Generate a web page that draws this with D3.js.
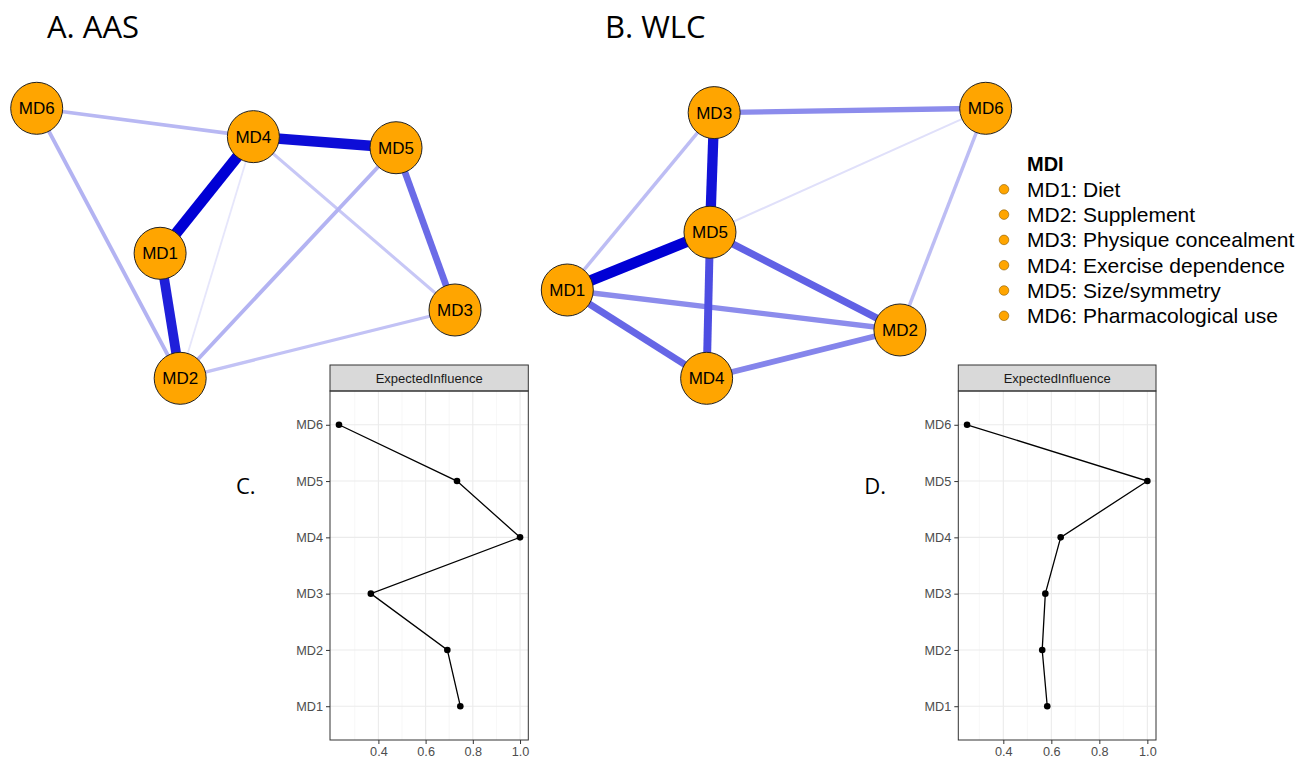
<!DOCTYPE html>
<html>
<head>
<meta charset="utf-8">
<script src="https://cdn.jsdelivr.net/npm/d3@7"></script>
<style>
  body { margin: 0; background: #fff; }
  svg { display: block; }
</style>
</head>
<body>
<svg width="1308" height="761"></svg>
<script>
// data
var nodes = ["MD1", "MD2", "MD3", "MD4", "MD5", "MD6"];
var legendLabels = ["MD1: Diet", "MD2: Supplement", "MD3: Physique concealment",
                    "MD4: Exercise dependence", "MD5: Size/symmetry", "MD6: Pharmacological use"];

// layouts (0-1 units), order MD1..MD6
var layoutA_x = [0.295, 0.343, 1.000, 0.518, 0.859, 0.000];
var layoutA_y = [0.537, 1.000, 0.747, 0.105, 0.146, 0.000];
var layoutB_x = [0.000, 0.795, 0.351, 0.333, 0.341, 1.000];
var layoutB_y = [0.673, 0.821, 0.016, 1.000, 0.459, 0.000];

// edges: [from, to, weight]
var edgesA = [
  ["MD6", "MD4", 0.28], ["MD6", "MD2", 0.30], ["MD4", "MD2", 0.10],
  ["MD4", "MD3", 0.22], ["MD5", "MD2", 0.30], ["MD3", "MD2", 0.24],
  ["MD5", "MD3", 0.58], ["MD1", "MD2", 0.88], ["MD4", "MD5", 0.95],
  ["MD4", "MD1", 1.00]
];
var edgesB = [
  ["MD5", "MD6", 0.12], ["MD3", "MD1", 0.26], ["MD6", "MD2", 0.26],
  ["MD3", "MD6", 0.45], ["MD1", "MD2", 0.45], ["MD4", "MD2", 0.48],
  ["MD1", "MD4", 0.60], ["MD5", "MD2", 0.62], ["MD5", "MD4", 0.70],
  ["MD3", "MD5", 0.93], ["MD5", "MD1", 1.00]
];

// expected influence (centrality)
var influenceC = [0.747, 0.692, 0.368, 1.000, 0.733, 0.233];
var influenceD = [0.583, 0.562, 0.575, 0.639, 1.000, 0.249];
var xTicks = [0.4, 0.6, 0.8, 1.0];
var xMinor = [0.3, 0.5, 0.7, 0.9];

var svg = d3.select("svg");
var font = "'Liberation Sans', Arial, sans-serif";

var edgeColour = d3.scaleLinear().domain([0, 1]).range(["#ffffff", "#0000d5"]);
var edgeWidth = d3.scaleLinear().domain([0, 1]).range([0.8, 11]);

function network(lx, ly, edges, xr, yr) {
  var x = d3.scaleLinear().domain([0, 1]).range(xr);
  var y = d3.scaleLinear().domain([0, 1]).range(yr);
  var pos = {};
  nodes.forEach(function(n, i) { pos[n] = [x(lx[i]), y(ly[i])]; });

  var g = svg.append("g");
  g.selectAll("line")
    .data(edges)
    .enter()
    .append("line")
      .attr("x1", function(d) { return pos[d[0]][0]; })
      .attr("y1", function(d) { return pos[d[0]][1]; })
      .attr("x2", function(d) { return pos[d[1]][0]; })
      .attr("y2", function(d) { return pos[d[1]][1]; })
      .attr("stroke", function(d) { return edgeColour(d[2]); })
      .attr("stroke-width", function(d) { return edgeWidth(d[2]); });

  var ng = g.selectAll("g.node")
    .data(nodes)
    .enter()
    .append("g")
      .attr("transform", function(d) { return "translate(" + pos[d][0] + "," + pos[d][1] + ")"; });
  ng.append("circle")
    .attr("r", 26)
    .attr("fill", "#ffa500")
    .attr("stroke", "#222")
    .attr("stroke-width", 1);
  ng.append("text")
    .attr("text-anchor", "middle")
    .attr("dy", "0.36em")
    .style("font-family", font)
    .style("font-size", "17px")
    .text(function(d) { return d; });
}

network(layoutA_x, layoutA_y, edgesA, [36.7, 455], [108.3, 378.3]);
network(layoutB_x, layoutB_y, edgesB, [567.3, 985.7], [108.3, 378.3]);

// titles
svg.append("text").attr("x", 47).attr("y", 38)
  .style("font-family", "'Open Sans', sans-serif").style("font-size", "31px").text("A. AAS");
svg.append("text").attr("x", 605).attr("y", 38)
  .style("font-family", "'Open Sans', sans-serif").style("font-size", "31px").text("B. WLC");

// legend
var lg = svg.append("g");
lg.append("text").attr("x", 1027).attr("y", 171)
  .style("font-family", font).style("font-size", "20px").style("font-weight", "bold").text("MDI");
var li = lg.selectAll("g.item")
  .data(legendLabels)
  .enter()
  .append("g")
    .attr("transform", function(d, i) { return "translate(0," + (189.3 + i * 25.3) + ")"; });
li.append("circle").attr("cx", 1004).attr("r", 4.8)
  .attr("fill", "#ffa500").attr("stroke", "#8a5a00").attr("stroke-width", 0.6);
li.append("text").attr("x", 1027).attr("dy", "0.36em")
  .style("font-family", font).style("font-size", "21px").text(function(d) { return d; });

// centrality plots
function centrality(values, left, right, domain, letter) {
  var top = 365, stripH = 26, bottom = 740;
  var x = d3.scaleLinear().domain(domain).range([left, right]);
  var y = d3.scalePoint().domain(nodes.slice().reverse()).range([top + stripH, bottom]).padding(0.6);

  var g = svg.append("g");
  // grid
  g.selectAll("line.minor").data(xMinor).enter().append("line")
    .attr("x1", function(d) { return x(d); }).attr("x2", function(d) { return x(d); })
    .attr("y1", top + stripH).attr("y2", bottom)
    .attr("stroke", "#f2f2f2").attr("stroke-width", 0.6);
  g.selectAll("line.major").data(xTicks).enter().append("line")
    .attr("x1", function(d) { return x(d); }).attr("x2", function(d) { return x(d); })
    .attr("y1", top + stripH).attr("y2", bottom)
    .attr("stroke", "#ebebeb").attr("stroke-width", 1.1);
  g.selectAll("line.hmajor").data(nodes).enter().append("line")
    .attr("x1", left).attr("x2", right)
    .attr("y1", function(d) { return y(d); }).attr("y2", function(d) { return y(d); })
    .attr("stroke", "#ebebeb").attr("stroke-width", 1.1);

  // strip
  g.append("rect").attr("x", left).attr("y", top).attr("width", right - left).attr("height", stripH)
    .attr("fill", "#d9d9d9").attr("stroke", "#333").attr("stroke-width", 1);
  g.append("text").attr("x", (left + right) / 2).attr("y", top + stripH / 2).attr("dy", "0.36em")
    .attr("text-anchor", "middle").attr("fill", "#1a1a1a")
    .style("font-family", font).style("font-size", "13px").text("ExpectedInfluence");
  g.append("rect").attr("x", left).attr("y", top + stripH).attr("width", right - left).attr("height", bottom - top - stripH)
    .attr("fill", "none").attr("stroke", "#333").attr("stroke-width", 1);

  // axes
  var ax = g.append("g").attr("transform", "translate(0," + bottom + ")")
    .call(d3.axisBottom(x).tickValues(xTicks).tickFormat(d3.format(".1f")).tickSize(4).tickSizeOuter(0));
  var ay = g.append("g").attr("transform", "translate(" + left + ",0)")
    .call(d3.axisLeft(y).tickSize(4).tickSizeOuter(0).tickPadding(3));
  [ax, ay].forEach(function(a) {
    a.select(".domain").remove();
    a.selectAll("line").attr("stroke", "#333");
    a.selectAll("text").attr("fill", "#4d4d4d").style("font-family", font).style("font-size", "12.7px");
  });

  // line and points
  var pts = nodes.map(function(n, i) { return [n, values[i]]; });
  g.append("path").datum(pts)
    .attr("fill", "none").attr("stroke", "#000").attr("stroke-width", 1.3)
    .attr("d", d3.line().x(function(d) { return x(d[1]); }).y(function(d) { return y(d[0]); }));
  g.selectAll("circle").data(pts).enter().append("circle")
    .attr("cx", function(d) { return x(d[1]); }).attr("cy", function(d) { return y(d[0]); })
    .attr("r", 3.3).attr("fill", "#000");

  svg.append("text").attr("x", left - 94).attr("y", 494)
    .style("font-family", "'Open Sans', sans-serif").style("font-size", "22px").text(letter);
}

centrality(influenceC, 330, 528.3, [0.195, 1.035], "C.");
centrality(influenceD, 958.3, 1156, [0.2125, 1.036], "D.");
</script>
</body>
</html>
